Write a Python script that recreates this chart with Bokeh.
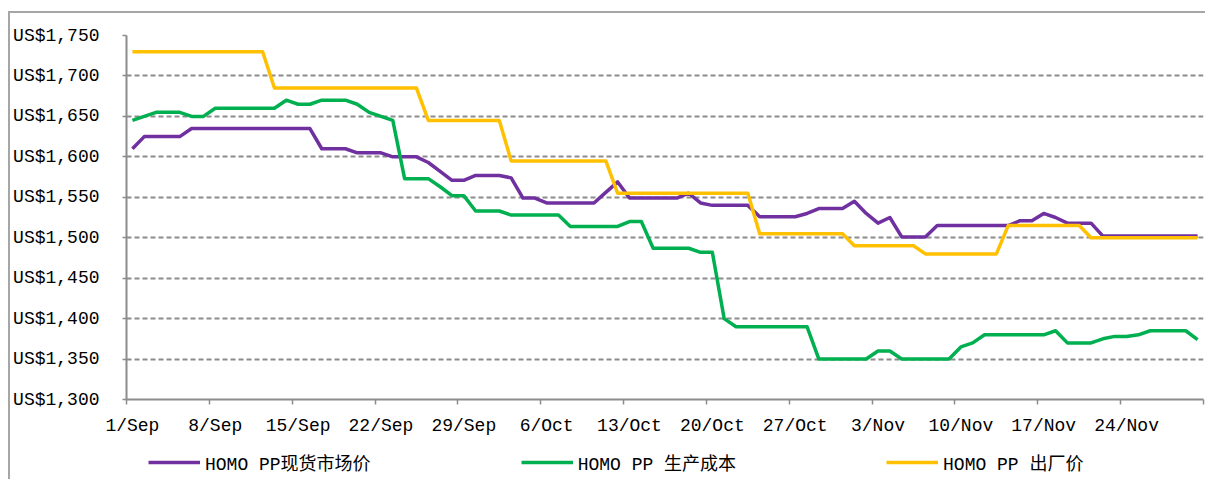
from bokeh.plotting import figure
from bokeh.layouts import column
from bokeh.models import Range1d, FixedTicker, Legend, LegendItem
from bokeh.embed import file_html
from bokeh.resources import INLINE

# x = day index: 0 = 1 Sep ... 90 = 30 Nov (one point per day)
days = list(range(91))
tick_days = [0, 7, 14, 21, 28, 35, 42, 49, 56, 63, 70, 77, 84]
tick_labels = ["1/Sep", "8/Sep", "15/Sep", "22/Sep", "29/Sep", "6/Oct", "13/Oct",
               "20/Oct", "27/Oct", "3/Nov", "10/Nov", "17/Nov", "24/Nov"]
band_edges = [-0.5, 6.5, 13.5, 20.5, 27.5, 34.5, 41.5, 48.5, 55.5, 62.5, 69.5, 76.5, 83.5, 90.5]
y_ticks = [1300, 1350, 1400, 1450, 1500, 1550, 1600, 1650, 1700, 1750]
y_labels = ["US$1,300", "US$1,350", "US$1,400", "US$1,450", "US$1,500",
            "US$1,550", "US$1,600", "US$1,650", "US$1,700", "US$1,750"]

names = ["HOMO PP现货市场价", "HOMO PP 生产成本", "HOMO PP 出厂价"]

spot = [1610,
        1625, 1625, 1625, 1625,
        1635, 1635, 1635, 1635, 1635, 1635, 1635, 1635, 1635, 1635, 1635,
        1610, 1610, 1610,
        1605, 1605, 1605,
        1600, 1600, 1600,
        1593, 1582, 1571, 1571,
        1577, 1577, 1577, 1574,
        1549, 1549,
        1543, 1543, 1543, 1543, 1543,
        1556, 1569,
        1549, 1549, 1549, 1549, 1549,
        1555, 1543,
        1540, 1540, 1540, 1540,
        1526, 1526, 1526, 1526,
        1530, 1536, 1536, 1536, 1545, 1530, 1518, 1525,
        1501, 1501, 1501,
        1515, 1515, 1515, 1515, 1515, 1515, 1515,
        1521, 1521, 1530, 1525,
        1518, 1518, 1518,
        1502, 1502, 1502, 1502, 1502, 1502, 1502, 1502, 1502]

cost = [1645, 1650,
        1655, 1655, 1655,
        1650, 1650,
        1660, 1660, 1660, 1660, 1660, 1660,
        1670, 1665, 1665,
        1670, 1670, 1670,
        1665, 1655, 1650, 1645,
        1573, 1573, 1573,
        1563, 1552, 1552,
        1533, 1533, 1533,
        1528, 1528, 1528, 1528, 1528,
        1514, 1514, 1514, 1514, 1514,
        1520, 1520,
        1487, 1487, 1487, 1487,
        1482, 1482,
        1400,
        1390, 1390, 1390, 1390, 1390, 1390, 1390,
        1350, 1350, 1350, 1350, 1350,
        1360, 1360,
        1350, 1350, 1350, 1350, 1350,
        1365, 1370,
        1380, 1380, 1380, 1380, 1380, 1380,
        1385,
        1370, 1370, 1370,
        1375, 1378, 1378, 1380,
        1385, 1385, 1385, 1385,
        1374]

exw = [1730, 1730, 1730, 1730, 1730, 1730, 1730, 1730, 1730, 1730, 1730, 1730,
       1685, 1685, 1685, 1685, 1685, 1685, 1685, 1685, 1685, 1685, 1685, 1685, 1685,
       1645, 1645, 1645, 1645, 1645, 1645, 1645,
       1595, 1595, 1595, 1595, 1595, 1595, 1595, 1595, 1595,
       1555, 1555, 1555, 1555, 1555, 1555, 1555, 1555, 1555, 1555, 1555, 1555,
       1505, 1505, 1505, 1505, 1505, 1505, 1505, 1505,
       1490, 1490, 1490, 1490, 1490, 1490,
       1480, 1480, 1480, 1480, 1480, 1480, 1480,
       1515, 1515, 1515, 1515, 1515, 1515, 1515,
       1500, 1500, 1500, 1500, 1500, 1500, 1500, 1500, 1500, 1500]

colors = ["#7030A0", "#00B050", "#FFC000"]

FONT = "Liberation Mono, Noto Sans CJK SC"
GRAY = "#8c8c8c"
BORDER = "2px solid #a6a6a6"

# ---------------- main chart ----------------
p = figure(width=1197, height=432, output_backend="svg", toolbar_location=None,
           x_range=Range1d(-0.5, 90.5), y_range=Range1d(1300, 1750),
           min_border_left=114, min_border_right=4, min_border_top=22, min_border_bottom=46)
p.margin = (11, 0, 0, 8)
p.styles = {"border-left": BORDER, "border-top": BORDER}
p.outline_line_color = None
p.background_fill_color = "white"
p.border_fill_color = "white"

for series, c in zip([spot, cost, exw], colors):
    p.line(days, series, line_color=c, line_width=3.5, line_join="round")

# x axis
p.xaxis.ticker = FixedTicker(ticks=tick_days, minor_ticks=band_edges)
p.xaxis.major_label_overrides = {d: t for d, t in zip(tick_days, tick_labels)}
p.xaxis.major_tick_line_color = None
p.xaxis.minor_tick_line_color = GRAY
p.xaxis.minor_tick_line_width = 1.5
p.xaxis.minor_tick_out = 5
p.xaxis.minor_tick_in = 0
p.xaxis.axis_line_color = GRAY
p.xaxis.axis_line_width = 2
p.xaxis.major_label_standoff = 10
p.xaxis.major_label_text_font = FONT
p.xaxis.major_label_text_font_size = "18px"
p.xaxis.major_label_text_color = "#000000"

# y axis
p.yaxis.ticker = FixedTicker(ticks=y_ticks, minor_ticks=[])
p.yaxis.major_label_overrides = {v: t for v, t in zip(y_ticks, y_labels)}
p.yaxis.major_tick_line_color = GRAY
p.yaxis.major_tick_line_width = 1.5
p.yaxis.major_tick_out = 4
p.yaxis.major_tick_in = 0
p.yaxis.axis_line_color = GRAY
p.yaxis.axis_line_width = 2
p.yaxis.major_label_standoff = 23
p.yaxis.major_label_text_font = FONT
p.yaxis.major_label_text_font_size = "18px"
p.yaxis.major_label_text_color = "#000000"

p.xgrid.grid_line_color = None
p.ygrid.grid_line_color = GRAY
p.ygrid.grid_line_width = 2
p.ygrid.grid_line_dash = "5 3"

# ---------------- legend strip ----------------
lg = figure(width=1197, height=36, output_backend="svg", toolbar_location=None,
            x_range=Range1d(0, 1), y_range=Range1d(0, 1),
            x_axis_location=None, y_axis_location=None,
            min_border_left=0, min_border_right=0, min_border_top=0, min_border_bottom=0)
lg.margin = (0, 0, 0, 8)
lg.styles = {"border-left": BORDER}
lg.grid.visible = False
lg.outline_line_color = None
lg.background_fill_color = "white"
lg.border_fill_color = "white"

# key renderers: their (off-range) points are never seen, only their legend swatches
keys = [lg.line(x=[-5, -4], y=[-5, -5], line_color=c, line_width=3.5) for c in colors]
legend = Legend(items=[LegendItem(label=n, renderers=[r]) for n, r in zip(names, keys)],
                orientation="horizontal", location=(22, 4),
                padding=8, margin=0, spacing=150, glyph_width=52, glyph_height=20,
                label_standoff=5, border_line_color=None, background_fill_alpha=0,
                label_text_font=FONT, label_text_font_size="18px", label_text_color="#000000")
lg.add_layout(legend, "center")

layout = column(p, lg, spacing=0)
open("out.html", "w").write(file_html(layout, INLINE))
